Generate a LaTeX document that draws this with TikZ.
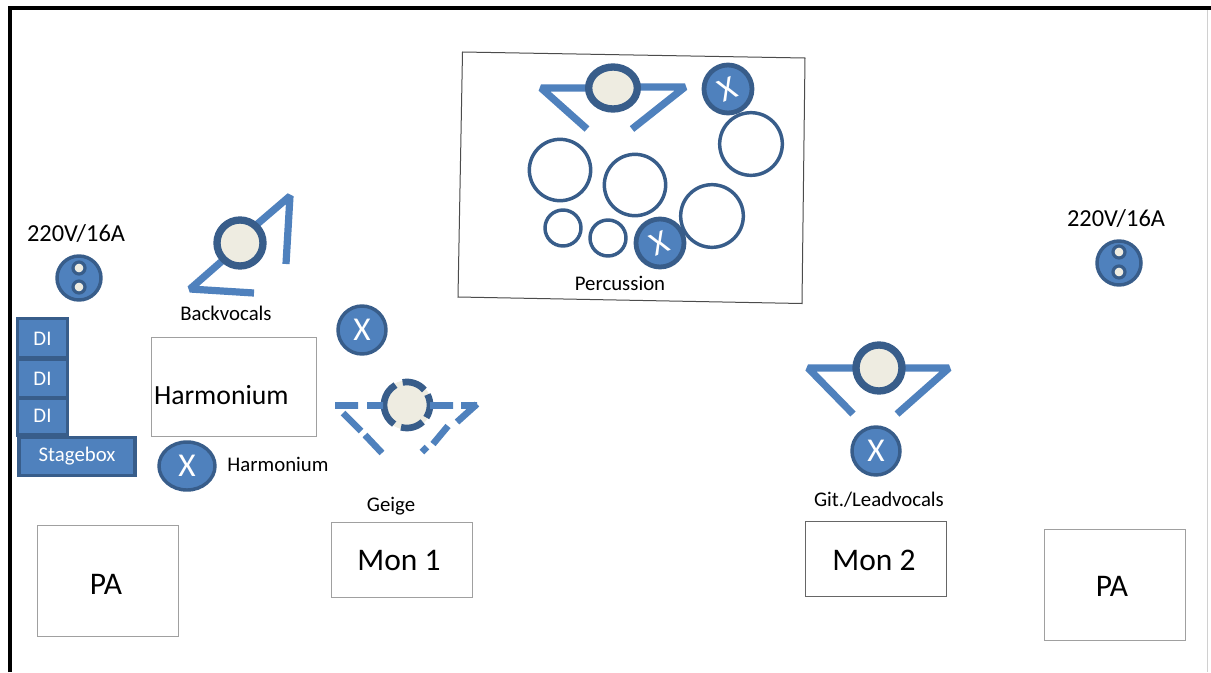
\documentclass[tikz,border=0pt]{standalone}
\usepackage{fontspec}
\setmainfont{Carlito}
\usetikzlibrary{shapes.geometric}
\definecolor{blu}{HTML}{4F81BD}
\definecolor{dbl}{HTML}{385D8A}
\definecolor{crm}{HTML}{EEECE1}
\definecolor{gry}{HTML}{A0A0A0}
\tikzset{
  px/.style={inner sep=0pt,outer sep=0pt},
  plainbox/.style={px,draw=gry,line width=0.75pt,fill=white,anchor=north west},
  bluebox/.style={px,draw=dbl,line width=2.4pt,fill=blu,text=white,font=\fontsize{15.6}{18}\selectfont},
  xdisc/.style={px,circle,draw=dbl,line width=2.6pt,fill=blu,text=white,minimum size=36pt,font=\fontsize{25}{28}\selectfont},
  xbig/.style={px,circle,draw=dbl,line width=3.6pt,fill=blu,minimum size=36pt},
  xmark/.style={px,text=white,font=\fontsize{25}{28}\selectfont,rotate=22},
  head/.style={px,circle,draw=dbl,line width=5.5pt,fill=crm,minimum size=34.5pt},
  arms/.style={draw=blu,line width=5.4pt,line join=bevel},
  armsd/.style={draw=blu,line width=5pt},
  drum/.style={px,circle,draw=dbl,line width=2.6pt},
  sock/.style={px,circle,draw=dbl,line width=2.6pt,fill=blu,minimum size=33pt},
  pin/.style={px,circle,draw=dbl,line width=2.4pt,fill=crm,minimum size=9pt},
  lab/.style={px,font=\fontsize{15.6}{18}\selectfont},
  power/.style={px,font=\fontsize{18.3}{22}\selectfont},
  big/.style={px,font=\fontsize{20.8}{24}\selectfont},
  bigger/.style={px,font=\fontsize{23.6}{28}\selectfont},
}
\begin{document}
\begin{tikzpicture}[x=0.75pt,y=-0.75pt]
\useasboundingbox (0,0) rectangle (1211,672);
\fill[white] (0,0) rectangle (1211,672);
% frame
\draw[black,line width=3pt] (10,672) -- (10,8) -- (1211,8);
\draw[gry!50,line width=0.75pt] (1207,10) -- (1207,672);
% percussion riser
\draw[black!70,line width=0.75pt] (462.5,52) -- (805,58) -- (802,303.5) -- (458,297) -- cycle;
% drummer
\draw[arms] (588,88) -- (541,88) -- (587,129);
\draw[arms] (636,87) -- (685,87) -- (632,129);
\node[px,ellipse,draw=dbl,line width=5.5pt,fill=crm,minimum width=36.5pt,minimum height=31.5pt] (drumhead) at (613,88) {};
\node[xbig] (xtop) at (728,89) {};
\node[xmark] (xtopm) at (xtop) {X};
\node[xbig] (xlow) at (660,243) {};
\node[xmark] (xlowm) at (xlow) {X};
\node[drum,minimum size=46pt] (d1) at (560,170) {};
\node[drum,minimum size=46pt] (d2) at (635,185) {};
\node[drum,minimum size=47pt] (d3) at (751,144) {};
\node[drum,minimum size=47pt] (d4) at (712,216) {};
\node[drum,minimum size=27pt] (d5) at (563,228) {};
\node[drum,minimum size=27pt] (d6) at (608,238) {};
\node[lab] (perc) at (620,283) {Percussion};
% left power
\node[power] (p1) at (76,234) {220V/16A};
\node[sock] (s1) at (79,278) {};
\node[pin] at (79,268) (s1a) {};
\node[pin] at (79,287) (s1b) {};
% right power
\node[power] (p2) at (1116,219) {220V/16A};
\node[sock] (s2) at (1119,263) {};
\node[pin] at (1119,252) (s2a) {};
\node[pin] at (1119,272) (s2b) {};
% DI / stagebox
\node[bluebox,minimum width=37.5pt,minimum height=29.25pt,text depth=0pt] (di1) at (42.5,338) {\raisebox{-1pt}{DI}};
\node[bluebox,minimum width=37.5pt,minimum height=28.5pt] (di2) at (42.5,378.5) {DI};
\node[bluebox,minimum width=37.5pt,minimum height=27.4pt] (di3) at (42.5,416.7) {\raisebox{1pt}{DI}};
\node[bluebox,minimum width=87pt,minimum height=29pt] (sb) at (77,456.5) {\raisebox{-1.5pt}{Stagebox}};
% backvocals
\draw[arms] (255,226) -- (290,196) -- (286,264);
\draw[arms] (222,261) -- (190,289) -- (254,293);
\node[head] (bv) at (240,243) {};
\node[lab] (bvl) at (226,313) {Backvocals};
% harmonium
\node[plainbox,minimum width=123.75pt,minimum height=74pt] (hbox) at (151.5,337.5) {};
\node[big,anchor=west] (ht) at (154,395) {Harmonium};
\node[px,ellipse,draw=dbl,line width=2.6pt,fill=blu,text=white,minimum width=42pt,minimum height=36pt,font=\fontsize{25}{28}\selectfont] (hx) at (187,466) {X};
\node[lab] (hl) at (278,464) {Harmonium};
% violin
\node[xdisc] (gx) at (362,330) {X};
\node[px,circle,fill=crm,minimum size=37pt] (ghead) at (407,405) {};
\foreach \a/\b in {101/41,27/-33,-47/-105,-124/-240}
  \draw[dbl,line width=5pt] ([shift={(\a:17.25pt)}]ghead.center) arc[start angle=\a,end angle=\b,radius=17.25pt];
\draw[armsd] (335,405.5) -- (358,405.5) (367,405.5) -- (383,405.5)
  (430,405.5) -- (453,405.5) (461,405.5) -- (477,405.5)
  (343,413) -- (361,431) (365,435) -- (382,453)
  (477,404) -- (457,422) (448,426) -- (433,444) (427,447) -- (422,452);
\node[lab] (gl) at (391,506) {Geige};
% guitar
\draw[arms] (855,368) -- (808,368) -- (853,414);
\draw[arms] (905,368) -- (949,368) -- (897,414);
\node[head] (git) at (879,368) {};
\node[xdisc] (gitx) at (876,451) {X};
\node[lab] (gitl) at (879,500) {Git./Leadvocals};
% boxes
\node[plainbox,minimum width=105.75pt,minimum height=83.5pt] (pa1) at (37.5,525.5) {};
\node[bigger] at (106,584) (pa1t) {PA};
\node[plainbox,minimum width=105.75pt,minimum height=56pt] (m1) at (331.5,522.5) {};
\node[bigger] at (399,560) (m1t) {Mon 1};
\node[plainbox,minimum width=105.75pt,minimum height=56pt,draw=black!60] (m2) at (805.5,521.5) {};
\node[bigger] at (874,560) (m2t) {Mon 2};
\node[plainbox,minimum width=105.75pt,minimum height=83.5pt] (pa2) at (1044.5,529.5) {};
\node[bigger] at (1112,586) (pa2t) {PA};
\end{tikzpicture}
\end{document}
